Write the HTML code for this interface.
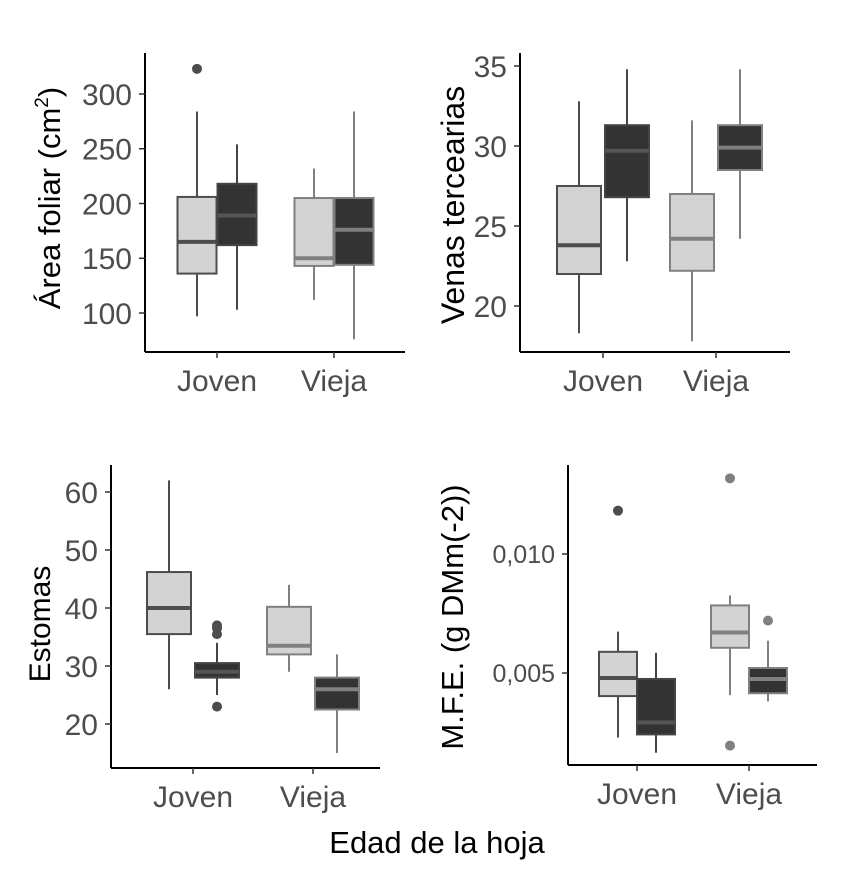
<!DOCTYPE html>
<html><head><meta charset="utf-8"><style>
html,body{margin:0;padding:0;background:#fff;}
svg{display:block;font-family:"Liberation Sans",Arial,sans-serif;}
</style></head><body>
<svg id="chart" width="867" height="883" viewBox="0 0 867 883">
<text x="437" y="853" font-size="31" text-anchor="middle" fill="#000">Edad de la hoja</text>
</svg>
<script>
const categories = ["Joven", "Vieja"];
// each box: [lowWhisker, q1, median, q3, highWhisker]
const areaLight = [[97,136,165,206,284],[112,143,150,205,232]];
const areaDark  = [[103,162,189,218,254],[76,144,176,205,284]];
const areaOutLight = [[323],[]];
const areaOutDark = [[],[]];
const areaTicks = [100,150,200,250,300];

const venasLight = [[18.3,22,23.8,27.5,32.8],[17.8,22.2,24.2,27,31.6]];
const venasDark  = [[22.8,26.8,29.7,31.3,34.8],[24.2,28.5,29.9,31.3,34.8]];
const venasOutLight = [[],[]];
const venasOutDark = [[],[]];
const venasTicks = [20,25,30,35];

const estLight = [[26,35.5,40,46.2,62],[29,32,33.5,40.2,44]];
const estDark  = [[25,28,29,30.5,34],[15,22.5,26,28,32]];
const estOutLight = [[],[]];
const estOutDark = [[23,35.5,36.5,37],[]];
const estTicks = [20,30,40,50,60];

const mfeLight = [[0.00229,0.00403,0.00479,0.00589,0.00674],[0.00407,0.00606,0.0067,0.00784,0.00826]];
const mfeDark  = [[0.00165,0.00242,0.00292,0.00475,0.00585],[0.00381,0.00415,0.00475,0.00521,0.00636]];
const mfeOutLight = [[0.01182],[0.01318,0.00195]];
const mfeOutDark = [[],[0.0072]];
const mfeTicks = [0.005,0.010];
const mfeTickLabels = ["0,005","0,010"];

const NS="http://www.w3.org/2000/svg";
const svg=document.getElementById('chart');
function mk(tag,attrs,parent){const e=document.createElementNS(NS,tag);for(const k in attrs)e.setAttribute(k,attrs[k]);(parent||svg).appendChild(e);return e;}

function panel(p){
  const g=mk('g',{});
  
  
  const y=v=>p.y0+(v-p.v0)*(p.y1-p.y0)/(p.v1-p.v0);
  const x=i=>p.xc[i];
  const ya=mk('line',{x1:p.ax,y1:p.top,x2:p.ax,y2:p.bot,stroke:'#000','stroke-width':2},g);
  
  
  const xa=mk('line',{x1:p.ax,y1:p.bot,x2:p.right,y2:p.bot,stroke:'#000','stroke-width':2},g);
  
  
  p.ticks.forEach((t,i)=>{
    const ty=y(t);
    mk('line',{x1:p.ax-6,y1:ty,x2:p.ax,y2:ty,stroke:'#333','stroke-width':1.5},g);
    const tl=mk('text',{x:p.ax-13,y:ty+p.tfs*0.36,'font-size':p.tfs,'text-anchor':'end',fill:'#4d4d4d'},g);
    tl.textContent=p.tickLabels?p.tickLabels[i]:String(t);
    
    
  });
  categories.forEach((c,i)=>{
    mk('line',{x1:x(i),y1:p.bot,x2:x(i),y2:p.bot+6,stroke:'#333','stroke-width':1.5},g);
    const cl=mk('text',{x:x(i),y:p.bot+39,'font-size':30,'text-anchor':'middle',fill:'#4d4d4d'},g);
    cl.textContent=c;
    
    
  });
  const strokes=['#4d4d4d','#808080'];
  function box(d,cx,fill,medc,stroke,nm){
    const bg=mk('g',{},g);
    
    
    mk('line',{x1:cx,y1:y(d[0]),x2:cx,y2:y(d[4]),stroke:stroke,'stroke-width':2},bg);
    const yt=y(d[3]),yb=y(d[1]);
    mk('rect',{x:cx-p.bw/2,y:Math.min(yt,yb),width:p.bw,height:Math.abs(yb-yt),fill:fill,stroke:stroke,'stroke-width':2},bg);
    mk('line',{x1:cx-p.bw/2,y1:y(d[2]),x2:cx+p.bw/2,y2:y(d[2]),stroke:medc,'stroke-width':4},bg);
  }
  categories.forEach((c,i)=>{
    const s=strokes[i];
    box(p.light[i],x(i)-p.off,'#d3d3d3',s,s,'box-light-'+c.toLowerCase());
    box(p.dark[i],x(i)+p.off,'#333333',i===0?'#555':'#808080',i===0?'#444':'#808080','box-dark-'+c.toLowerCase());
    p.outL[i].forEach(v=>{const o=mk('circle',{cx:x(i)-p.off,cy:y(v),r:5,fill:s},g);
      
      });
    p.outD[i].forEach(v=>{const o=mk('circle',{cx:x(i)+p.off,cy:y(v),r:5,fill:s},g);
      
      });
  });
  const tt=mk('text',{transform:`translate(${p.tx},${p.ty}) rotate(-90)`,'font-size':p.titleFs,'text-anchor':'middle',fill:'#000'},g);
  tt.innerHTML=p.title;
  
  
}

panel({name:'panel-area-foliar',ax:145,top:53,bot:352,right:405,v0:100,y0:313,v1:300,y1:94,ticks:areaTicks,tfs:30,
  xc:[217,334],bw:39,off:20,light:areaLight,dark:areaDark,outL:areaOutLight,outD:areaOutDark,
  title:'Área foliar (cm<tspan dy="-12" font-size="19">2</tspan><tspan dy="12">)</tspan>',tx:60,ty:198,titleFs:31});
panel({name:'panel-venas',ax:520,top:53,bot:352,right:790,v0:20,y0:306,v1:35,y1:66,ticks:venasTicks,tfs:30,
  xc:[603,716],bw:44,off:24,light:venasLight,dark:venasDark,outL:venasOutLight,outD:venasOutDark,
  title:'Venas tercearias',tx:464,ty:205,titleFs:32});
panel({name:'panel-estomas',ax:111,top:465,bot:768,right:380,v0:20,y0:724,v1:60,y1:492,ticks:estTicks,tfs:30,
  xc:[193,313],bw:44,off:24,light:estLight,dark:estDark,outL:estOutLight,outD:estOutDark,
  title:'Estomas',tx:50,ty:624,titleFs:30});
panel({name:'panel-mfe',ax:568,top:465,bot:765,right:817,v0:0.005,y0:673,v1:0.010,y1:554,ticks:mfeTicks,tickLabels:mfeTickLabels,tfs:25,
  xc:[637,749],bw:38,off:19,light:mfeLight,dark:mfeDark,outL:mfeOutLight,outD:mfeOutDark,
  title:'M.F.E. (g DMm(-2))',tx:463,ty:617,titleFs:31});
</script>
</body></html>
